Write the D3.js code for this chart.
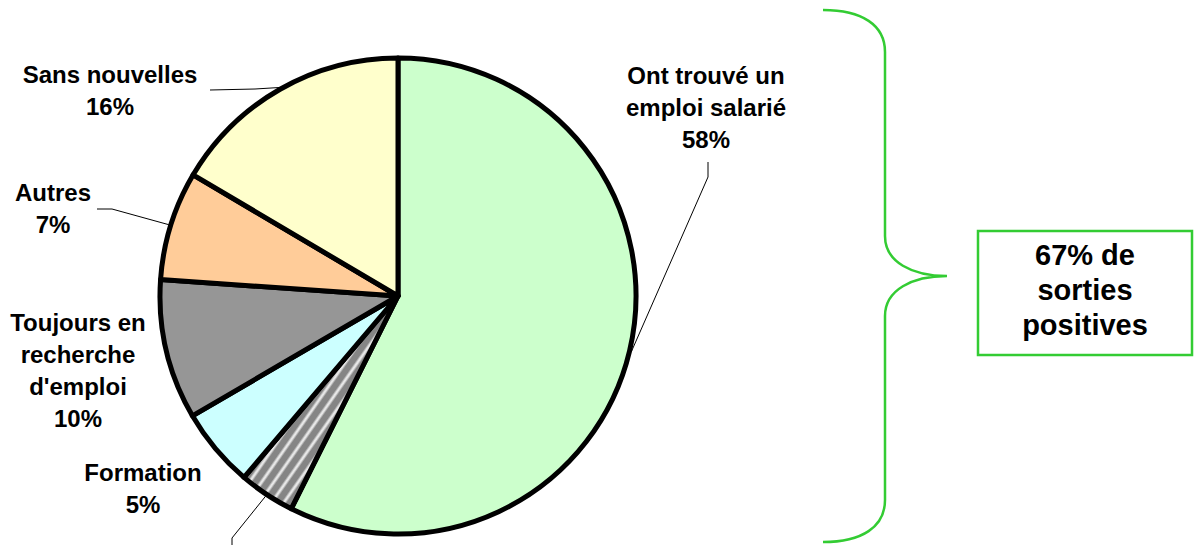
<!DOCTYPE html>
<html lang="fr">
    <head>
        <meta charset="utf-8">
        <title>Sorties</title>
        <script type="text/javascript" src="https://cdn.jsdelivr.net/npm/d3@7"></script>
        <style>
            body { margin: 0; background: #fff; }
            text { font-family: "Liberation Sans", Arial, sans-serif; font-weight: bold; fill: #000; }
        </style>
    </head>
    <body>
        <script type="text/javascript">
            // data (slice shares, labels as printed)
            var categories = ["Ont trouvé un emploi salarié", "Créé leur entreprise", "Formation",
                              "Toujours en recherche d'emploi", "Autres", "Sans nouvelles"];
            var values = [57.4, 3.8, 5.4, 9.5, 7.4, 16.5];
            // the small hatched slice has its label off the bottom edge in the original, so none here
            var labelLines = [
                ["Ont trouvé un", "emploi salarié", "58%"],
                [],
                ["Formation", "5%"],
                ["Toujours en", "recherche", "d'emploi", "10%"],
                ["Autres", "7%"],
                ["Sans nouvelles", "16%"]
            ];
            var summaryLines = ["67% de", "sorties", "positives"];

            //width and height
            var svgWidth = 1194;
            var svgHeight = 545;
            var cx = 398, cy = 296, radius = 238;

            var colors = ["#ccffcc", "url(#hatch)", "#ccffff", "#969696", "#ffcc99", "#ffffcc"];
            // label block centre x / first line y, and leader elbow points
            var labelPos = [
                {x: 706, y: 84, leader: [[708, 177], [708, 162]]},
                {x: 232, y: 600, leader: [[232, 538], [232, 560]]},
                {x: 143, y: 481, leader: null},
                {x: 78, y: 331, leader: null},
                {x: 53, y: 201, leader: [[112, 209], [97, 209]]},
                {x: 110, y: 83, leader: [[255, 89], [210, 90]]}
            ];
            var lineHeight = 32;

            var svg = d3.select("body")
                        .append("svg")
                        .attr("width", svgWidth)
                        .attr("height", svgHeight);

            //hatch pattern for the small slice
            var defs = svg.append("defs");
            var grad = defs.append("linearGradient").attr("id", "stripe");
            grad.append("stop").attr("offset", "0%").attr("stop-color", "#858585");
            grad.append("stop").attr("offset", "50%").attr("stop-color", "#ffffff");
            grad.append("stop").attr("offset", "100%").attr("stop-color", "#858585");
            var pat = defs.append("pattern")
                .attr("id", "hatch")
                .attr("patternUnits", "userSpaceOnUse")
                .attr("width", 10)
                .attr("height", 10)
                .attr("patternTransform", "rotate(35)");
            pat.append("rect").attr("width", 10).attr("height", 10).attr("fill", "#858585");
            pat.append("rect").attr("x", 2.5).attr("width", 5).attr("height", 10).attr("fill", "url(#stripe)");

            var pie = d3.pie().sort(null).value(function(d) { return d; });
            var arcs = pie(values);
            var arc = d3.arc().innerRadius(0).outerRadius(radius);

            var g = svg.append("g").attr("transform", "translate(" + cx + "," + cy + ")");
            g.selectAll("path")
                .data(arcs)
                .enter()
                .append("path")
                .attr("d", arc)
                .attr("fill", function(d, i) { return colors[i]; })
                .attr("stroke", "#000")
                .attr("stroke-width", 5)
                .attr("stroke-linejoin", "round");

            //leader lines from slice mid-angle on the edge
            arcs.forEach(function(a, i) {
                var p = labelPos[i];
                if (!p.leader) return;
                var mid = (a.startAngle + a.endAngle) / 2;
                var start = [cx + (radius + 2) * Math.sin(mid), cy - (radius + 2) * Math.cos(mid)];
                svg.append("path")
                    .attr("d", d3.line()([start].concat(p.leader)))
                    .attr("fill", "none")
                    .attr("stroke", "#000")
                    .attr("stroke-width", 1);
            });

            //labels
            labelLines.forEach(function(lines, i) {
                if (!lines.length) return;
                var p = labelPos[i];
                var t = svg.append("text")
                    .attr("text-anchor", "middle")
                    .attr("font-size", "24px");
                lines.forEach(function(l, j) {
                    t.append("tspan")
                        .attr("x", p.x)
                        .attr("y", p.y + j * lineHeight)
                        .text(l);
                });
            });

            //brace
            var green = "#33cc33";
            svg.append("path")
                .attr("d", "M823,10 C862,10 885,25 885,52 L885,236 C885,262 912,276 947,276 " +
                           "C912,276 885,290 885,316 L885,500 C885,527 862,542 823,542")
                .attr("fill", "none")
                .attr("stroke", green)
                .attr("stroke-width", 2.5);

            //summary box
            svg.append("rect")
                .attr("x", 978)
                .attr("y", 231)
                .attr("width", 214)
                .attr("height", 124)
                .attr("fill", "#fff")
                .attr("stroke", green)
                .attr("stroke-width", 2.5);

            var st = svg.append("text")
                .attr("text-anchor", "middle")
                .attr("font-size", "29px");
            summaryLines.forEach(function(l, j) {
                st.append("tspan")
                    .attr("x", 1085)
                    .attr("y", 265 + j * 35)
                    .text(l);
            });
        </script>
    </body>
</html>
